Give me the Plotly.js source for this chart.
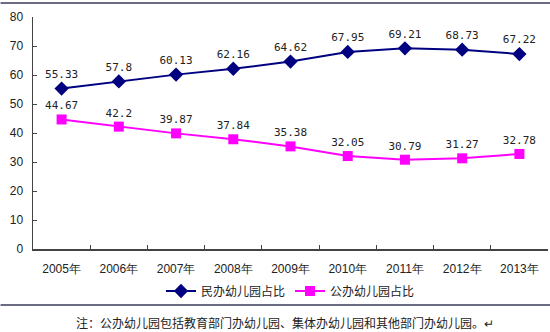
<!DOCTYPE html>
<html>
<head>
<meta charset="utf-8">
<script src="https://cdn.plot.ly/plotly-3.0.1.min.js"></script>
<style>html,body{margin:0;padding:0;background:#fff;}#chart{width:550px;height:332px;}</style>
</head>
<body>
<div id="chart"></div>
<script>
const years = ["2005年","2006年","2007年","2008年","2009年","2010年","2011年","2012年","2013年"];
const privateShare = [55.33, 57.8, 60.13, 62.16, 64.62, 67.95, 69.21, 68.73, 67.22];
const publicShare = [44.67, 42.2, 39.87, 37.84, 35.38, 32.05, 30.79, 31.27, 32.78];
const privateLabels = ["55.33","57.8","60.13","62.16","64.62","67.95","69.21","68.73","67.22"];
const publicLabels = ["44.67","42.2","39.87","37.84","35.38","32.05","30.79","31.27","32.78"];
const seriesNames = ["民办幼儿园占比","公办幼儿园占比"];
const yTicks = [0,10,20,30,40,50,60,70,80];
const note = "注：公办幼儿园包括教育部门办幼儿园、集体办幼儿园和其他部门办幼儿园。↵";

const L = 32.5, R = 2, T = 17, B = 83;
const W = 550, H = 332;
const pw = W - L - R, ph = H - T - B;
const px = v => (v - L) / pw;
const py = v => (H - B - v) / ph;

const labelFont = {family: "DejaVu Sans Mono, monospace", size: 11, color: "#222"};

const traces = [
  {
    x: years, y: privateShare, name: seriesNames[0], type: "scatter",
    mode: "lines+markers+text", text: privateLabels, textposition: "top center",
    textfont: labelFont,
    line: {color: "#000080", width: 2},
    marker: {symbol: "diamond", size: 11, color: "#000080"},
    cliponaxis: false
  },
  {
    x: years, y: publicShare, name: seriesNames[1], type: "scatter",
    mode: "lines+markers+text", text: publicLabels, textposition: "top center",
    textfont: labelFont,
    line: {color: "#ff00ff", width: 2},
    marker: {symbol: "square", size: 10, color: "#ff00ff"},
    cliponaxis: false
  }
];

const layout = {
  width: W, height: H,
  margin: {l: L, r: R, t: T, b: B, pad: 0},
  paper_bgcolor: "#fff", plot_bgcolor: "#fff",
  font: {family: "Liberation Sans, Arial, sans-serif", size: 12, color: "#222"},
  showlegend: true,
  legend: {
    orientation: "h", x: 0.5, xanchor: "center", y: py(291), yanchor: "middle",
    font: {family: "Noto Sans CJK SC, sans-serif", size: 12, color: "#222"},
    itemwidth: 30, tracegroupgap: 0, bgcolor: "rgba(0,0,0,0)"
  },
  xaxis: {
    type: "category", tickvals: years, ticktext: years,
    range: [-0.5, 8.5], showgrid: false, zeroline: false,
    showline: true, linecolor: "#444", linewidth: 1.5,
    ticks: "inside", ticklen: 4, tickcolor: "#444", tickson: "boundaries",
    tickfont: {family: "Liberation Sans, Arial, sans-serif", size: 12, color: "#222"},
    ticklabelstandoff: 8,
    fixedrange: true
  },
  yaxis: {
    range: [0, 80], tickvals: yTicks, ticktext: yTicks.map(String),
    showgrid: false, zeroline: false,
    showline: true, linecolor: "#444", linewidth: 1.5,
    ticks: "inside", ticklen: 4, tickcolor: "#444",
    tickfont: {family: "Liberation Sans, Arial, sans-serif", size: 12, color: "#222"},
    ticklabelstandoff: 6,
    fixedrange: true
  },
  shapes: [
    {type: "line", xref: "paper", yref: "paper", x0: px(0), x1: px(W), y0: py(3), y1: py(3),
     line: {color: "#3a3a5a", width: 1.5}},
    {type: "line", xref: "paper", yref: "paper", x0: px(0), x1: px(W), y0: py(305), y1: py(305),
     line: {color: "#3a3a5a", width: 1.5}}
  ],
  annotations: [
    {text: note, xref: "paper", yref: "paper", x: px(285), y: py(322),
     xanchor: "center", yanchor: "middle", showarrow: false,
     font: {family: "Noto Sans CJK SC, sans-serif", size: 12, color: "#222"}}
  ]
};

Plotly.newPlot("chart", traces, layout, {staticPlot: true, displayModeBar: false});
</script>
</body>
</html>
